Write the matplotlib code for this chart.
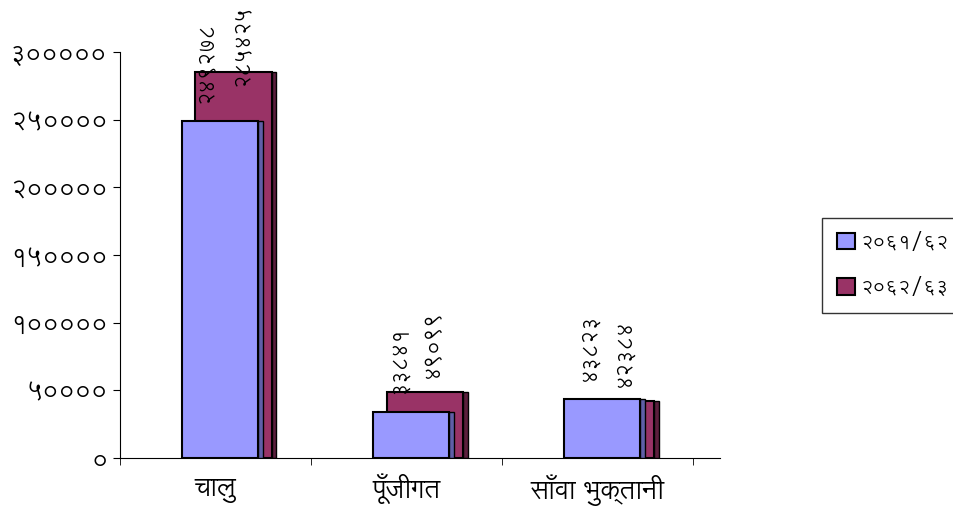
import matplotlib
matplotlib.use("Agg")
import matplotlib.pyplot as plt

categories = ["चालु", "पूँजीगत", "साँवा भुक्तानी"]
series_names = ["२०६१/६२", "२०६२/६३"]
values_6162 = [249278, 33841, 43823]
values_6263 = [285425, 49099, 42384]
yticks = [0, 50000, 100000, 150000, 200000, 250000, 300000]

DEVA = "०१२३४५६७८९"


def to_deva(n):
    return "".join(DEVA[int(c)] for c in str(n))


plt.rcParams["font.family"] = ["Lohit Devanagari", "Noto Sans Devanagari", "FreeSans", "DejaVu Sans"]

fig = plt.figure(figsize=(9.54, 5.07), dpi=100)
ax = fig.add_axes([120 / 954, 49 / 507, 600 / 954, 406 / 507])

blue, blue_side = "#9999ff", "#5f5fa8"
maroon, maroon_side = "#993366", "#5c1f3d"
w, side = 0.398, 0.026

labels = []
for i, (v1, v2) in enumerate(zip(values_6162, values_6263)):
    c = i + 0.5
    # second series sits behind and to the right of the first
    ax.bar(c - 0.105, v2, width=w, align="edge", color=maroon, edgecolor="black", lw=1.5, zorder=2)
    ax.bar(c - 0.105 + w, v2, width=side, align="edge", color=maroon_side, edgecolor="black", lw=1, zorder=2)
    ax.bar(c - 0.178, v1, width=w, align="edge", color=blue, edgecolor="black", lw=1.5, zorder=3)
    ax.bar(c - 0.178 + w, v1, width=side, align="edge", color=blue_side, edgecolor="black", lw=1, zorder=3)
    labels.append(ax.annotate(to_deva(v1), (c - 0.04, v1), xytext=(0, 13), textcoords="offset points",
                              rotation=90, ha="center", va="bottom", fontsize=15, zorder=5))
    labels.append(ax.annotate(to_deva(v2), (c + 0.14, v2), xytext=(0, 10), textcoords="offset points",
                              rotation=90, ha="center", va="bottom", fontsize=15, zorder=5))

ax.set_xlim(0, 3.14)
ax.set_ylim(0, 300000)
ax.set_yticks(yticks)
ax.set_yticklabels([to_deva(t) for t in yticks], fontsize=18)
ax.set_xticks([0.5, 1.5, 2.5])
ax.set_xticklabels(categories, fontsize=19)
ax.set_xticks([0, 1, 2, 3], minor=True)
ax.tick_params(axis="x", which="major", length=0, pad=12)
ax.tick_params(axis="x", which="minor", length=5, direction="out")
ax.tick_params(axis="y", length=5, direction="out", pad=4)
for s in ["top", "right"]:
    ax.spines[s].set_visible(False)

handles = [plt.Rectangle((0, 0), 1, 1, fc=blue, ec="black", lw=1.5),
           plt.Rectangle((0, 0), 1, 1, fc=maroon, ec="black", lw=1.5)]
leg = fig.legend(handles, series_names, loc="upper left", bbox_to_anchor=(822 / 954, 1 - 218 / 507),
                 fontsize=14, frameon=True, fancybox=False, edgecolor="black",
                 handlelength=0.95, handleheight=0.95, handletextpad=0.3,
                 labelspacing=1.3, borderpad=0.75, borderaxespad=0)
leg.get_frame().set_linewidth(1)

# labels that would run off the top are pushed down, as the reference does
fig.canvas.draw()
renderer = fig.canvas.get_renderer()
for t in labels:
    bb = t.get_window_extent(renderer)
    over = bb.y1 - (fig.bbox.height - 5)
    if over > 0:
        ox, oy = t.xyann
        t.xyann = (ox, oy - over * 72 / fig.dpi)

fig.savefig("out.png", dpi=100)
